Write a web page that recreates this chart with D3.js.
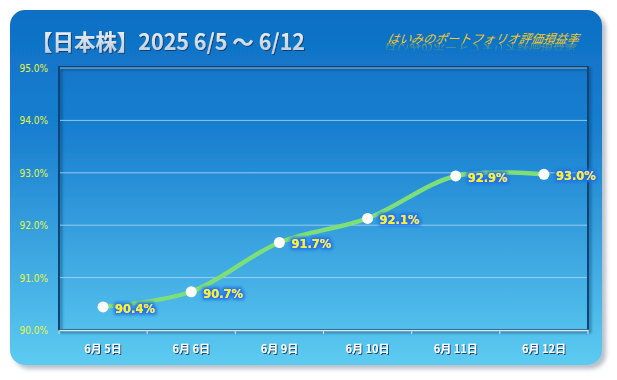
<!DOCTYPE html>
<html>
<head>
<meta charset="utf-8">
<script src="https://cdn.jsdelivr.net/npm/d3@7"></script>
<style>
  body { margin: 0; background: #fff; }
  svg { display: block; }
</style>
</head>
<body>
<div id="app"></div>
<script>
const dates = ["6月 5日", "6月 6日", "6月 9日", "6月 10日", "6月 11日", "6月 12日"];
const values = [90.44, 90.73, 91.67, 92.13, 92.94, 92.97];
const yTicks = [90, 91, 92, 93, 94, 95];

const width = 617, height = 380;
const plot = { left: 59, right: 588, top: 68, bottom: 330 };

const svg = d3.select("#app").append("svg")
  .attr("width", width)
  .attr("height", height);

const defs = svg.append("defs");

const bg = defs.append("linearGradient").attr("id", "bg")
  .attr("x1", 0).attr("y1", 0).attr("x2", 0).attr("y2", 1);
bg.append("stop").attr("offset", "0%").attr("stop-color", "#0d6fc4");
bg.append("stop").attr("offset", "35%").attr("stop-color", "#1a80d0");
bg.append("stop").attr("offset", "100%").attr("stop-color", "#5dcbf1");

const titleGrad = defs.append("linearGradient").attr("id", "titleGrad")
  .attr("x1", 0).attr("y1", 0).attr("x2", 0).attr("y2", 1);
titleGrad.append("stop").attr("offset", "0%").attr("stop-color", "#f4f7fb");
titleGrad.append("stop").attr("offset", "100%").attr("stop-color", "#b9c9dc");

// fade for the subtitle reflection
const fade = defs.append("linearGradient").attr("id", "fade")
  .attr("gradientUnits", "userSpaceOnUse")
  .attr("x1", 0).attr("y1", 43).attr("x2", 0).attr("y2", 52);
fade.append("stop").attr("offset", "0%").attr("stop-color", "#fff").attr("stop-opacity", 0.6);
fade.append("stop").attr("offset", "100%").attr("stop-color", "#fff").attr("stop-opacity", 0);
defs.append("mask").attr("id", "fadeMask")
  .attr("maskUnits", "userSpaceOnUse")
  .append("rect")
  .attr("x", 370).attr("y", 43).attr("width", 230).attr("height", 10)
  .attr("fill", "url(#fade)");

const cardShadow = defs.append("filter").attr("id", "cardShadow")
  .attr("x", "-5%").attr("y", "-5%").attr("width", "115%").attr("height", "115%");
cardShadow.append("feDropShadow").attr("dx", 4).attr("dy", 4)
  .attr("stdDeviation", 2).attr("flood-color", "#9aa6b4").attr("flood-opacity", 0.7);

const textShadow = defs.append("filter").attr("id", "textShadow")
  .attr("x", "-10%").attr("y", "-30%").attr("width", "130%").attr("height", "160%");
textShadow.append("feDropShadow").attr("dx", 1).attr("dy", 1)
  .attr("stdDeviation", 0.6).attr("flood-color", "#0a3a6a").attr("flood-opacity", 0.9);

const glow = defs.append("filter").attr("id", "glow")
  .attr("x", "-30%").attr("y", "-60%").attr("width", "160%").attr("height", "220%");
glow.append("feMorphology").attr("in", "SourceAlpha").attr("operator", "dilate")
  .attr("radius", 2).attr("result", "d");
glow.append("feGaussianBlur").attr("in", "d").attr("stdDeviation", 1.5).attr("result", "b");
glow.append("feFlood").attr("flood-color", "#1f6fe6").attr("flood-opacity", 0.9);
glow.append("feComposite").attr("in2", "b").attr("operator", "in").attr("result", "g");
const gm = glow.append("feMerge");
gm.append("feMergeNode").attr("in", "g");
gm.append("feMergeNode").attr("in", "SourceGraphic");

const plotShadow = defs.append("filter").attr("id", "plotShadow")
  .attr("x", "-5%").attr("y", "-5%").attr("width", "110%").attr("height", "110%");
plotShadow.append("feDropShadow").attr("dx", 2).attr("dy", 2)
  .attr("stdDeviation", 1.5).attr("flood-color", "#06325a").attr("flood-opacity", 0.6);

// card
svg.append("rect")
  .attr("x", 10).attr("y", 10)
  .attr("width", 592).attr("height", 355)
  .attr("rx", 15)
  .attr("fill", "url(#bg)")
  .attr("filter", "url(#cardShadow)");

// title
svg.append("text")
  .attr("x", 31).attr("y", 50)
  .attr("fill", "url(#titleGrad)")
  .attr("font-family", "'Noto Sans CJK JP', sans-serif")
  .attr("font-weight", "bold")
  .attr("font-size", 22)
  .attr("textLength", 274)
  .attr("lengthAdjust", "spacingAndGlyphs")
  .attr("filter", "url(#textShadow)")
  .text("【日本株】2025 6/5 〜 6/12");

// subtitle + reflection
const sub = "はいみのポートフォリオ評価損益率";
svg.append("g")
  .attr("mask", "url(#fadeMask)")
  .append("text")
  .attr("x", 578).attr("y", 43)
  .attr("text-anchor", "end")
  .attr("transform", "translate(0,86) scale(1,-1) skewX(10) translate(-8,0)")
  .attr("fill", "#f7c81c")
  .attr("font-family", "'Noto Sans CJK JP', sans-serif")
  .attr("font-size", 12)
  .text(sub);
svg.append("text")
  .attr("x", 578).attr("y", 43)
  .attr("text-anchor", "end")
  .attr("fill", "#f7c81c")
  .attr("font-family", "'Noto Sans CJK JP', sans-serif")
  .attr("font-style", "italic")
  .attr("font-size", 12)
  .attr("transform", "skewX(-10) translate(8,0)")
  .text(sub);

const x = d3.scaleBand().domain(dates).range([plot.left, plot.right]);
const y = d3.scaleLinear().domain([90, 95]).range([plot.bottom, plot.top]);

// plot frame
svg.append("rect")
  .attr("x", plot.left).attr("y", plot.top - 1)
  .attr("width", plot.right - plot.left).attr("height", plot.bottom - plot.top + 1)
  .attr("fill", "none")
  .attr("stroke", "#0b4477")
  .attr("stroke-width", 2)
  .attr("filter", "url(#plotShadow)");

// gridlines
svg.append("g")
  .selectAll("line")
  .data(yTicks.filter((d) => d > 90))
  .enter()
  .append("line")
  .attr("x1", plot.left + 1).attr("x2", plot.right - 1)
  .attr("y1", (d) => y(d)).attr("y2", (d) => y(d))
  .attr("stroke", "#a9d4f5")
  .attr("stroke-opacity", 0.85)
  .attr("stroke-width", 1);

// y axis labels
svg.append("g")
  .selectAll("text")
  .data(yTicks)
  .enter()
  .append("text")
  .attr("x", 48).attr("y", (d) => y(d) + 4)
  .attr("text-anchor", "end")
  .attr("fill", "#e6f53c")
  .attr("font-family", "'DejaVu Sans Condensed', 'DejaVu Sans', sans-serif")
  .attr("font-size", 10)
  .text((d) => d.toFixed(1) + "%");

// x axis
const xAxis = svg.append("g")
  .attr("transform", `translate(0, ${plot.bottom})`)
  .call(d3.axisBottom(x).tickSize(0).tickFormat(""));
xAxis.select(".domain").attr("stroke", "#d7e6f2").attr("stroke-width", 1.5);
const edges = dates.map((d) => x(d)).concat([plot.right]);
xAxis.append("g").selectAll("line")
  .data(edges)
  .enter()
  .append("line")
  .attr("x1", (d) => d).attr("x2", (d) => d)
  .attr("y1", 0).attr("y2", 4)
  .attr("stroke", "#d7e6f2");

svg.append("g")
  .selectAll("text")
  .data(dates)
  .enter()
  .append("text")
  .attr("x", (d) => x(d) + x.bandwidth() / 2)
  .attr("y", 353)
  .attr("text-anchor", "middle")
  .attr("fill", "#ffffff")
  .attr("font-family", "'Noto Sans CJK JP', sans-serif")
  .attr("font-weight", "bold")
  .attr("font-size", 11)
  .attr("filter", "url(#textShadow)")
  .text((d) => d);

// line
const line = d3.line()
  .x((d, i) => x(dates[i]) + x.bandwidth() / 2)
  .y((d) => y(d))
  .curve(d3.curveCatmullRom.alpha(0.5));

svg.append("path")
  .datum(values)
  .attr("d", line)
  .attr("fill", "none")
  .attr("stroke", "#7ede78")
  .attr("stroke-width", 4.5)
  .attr("stroke-linecap", "round");

svg.append("g")
  .selectAll("circle")
  .data(values)
  .enter()
  .append("circle")
  .attr("cx", (d, i) => x(dates[i]) + x.bandwidth() / 2)
  .attr("cy", (d) => y(d))
  .attr("r", 5.5)
  .attr("fill", "#ffffff");

svg.append("g")
  .selectAll("text")
  .data(values)
  .enter()
  .append("text")
  .attr("x", (d, i) => x(dates[i]) + x.bandwidth() / 2 + 12)
  .attr("y", (d) => y(d) + 6)
  .attr("fill", "#fff700")
  .attr("font-family", "'DejaVu Sans', sans-serif")
  .attr("font-weight", "bold")
  .attr("font-size", 11.5)
  .attr("filter", "url(#glow)")
  .text((d) => d.toFixed(1) + "%");
</script>
</body>
</html>
